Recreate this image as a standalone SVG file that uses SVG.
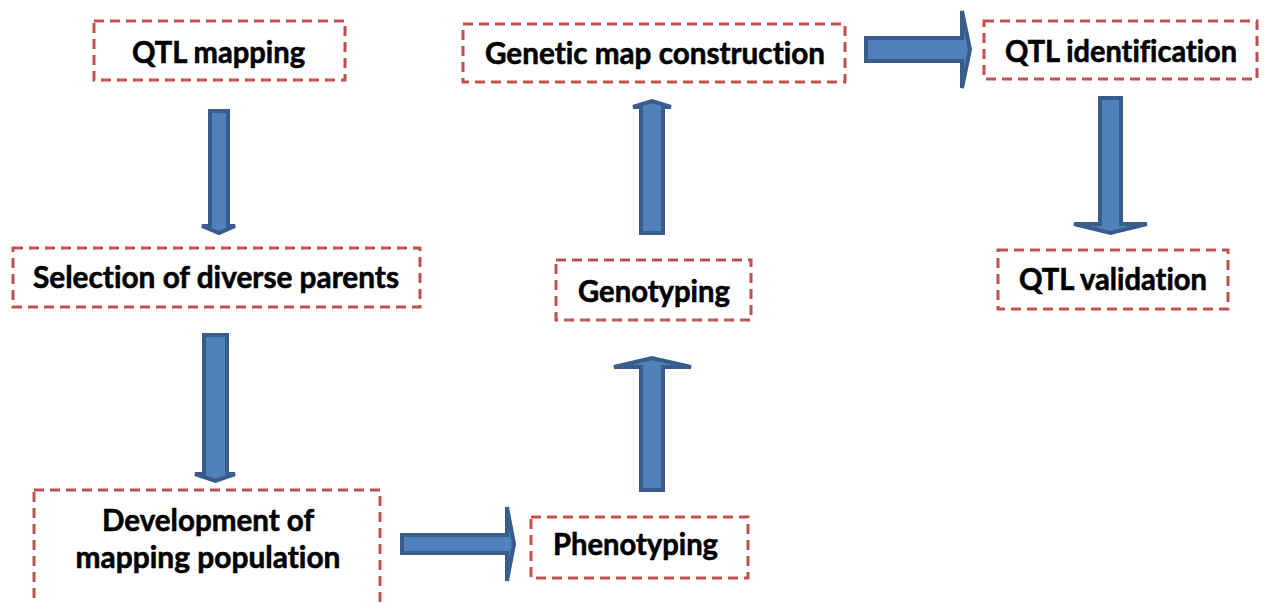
<svg xmlns="http://www.w3.org/2000/svg" width="1264" height="603" viewBox="0 0 1264 603">
<style>
.box{fill:none;stroke:#C0504D;stroke-width:3;stroke-dasharray:10 6}
.lbl{font-family:Lato,"Open Sans","Liberation Sans",sans-serif;font-weight:bold;font-size:30.5px;fill:#000;stroke:#000;stroke-width:0.6;text-anchor:middle;font-variant-ligatures:none}
.arr{fill:#4F81BD;stroke:#385D8A;stroke-width:4;stroke-linejoin:miter}
</style>
<rect width="1264" height="603" fill="#fff"/>
<g id="connectors">
<polygon class="arr" points="210,111 228,111 228,226 235,226 219,233 202,226 210,226"/>
<polygon class="arr" points="204,335 227,335 227,474 235,474 215.5,481 195,474 204,474"/>
<polygon class="arr" points="402,535 507,535 507,507 514,544 507,581 507,553 402,553"/>
<polygon class="arr" points="641,490 663,490 663,367 691,367 652,358 614,367 641,367"/>
<polygon class="arr" points="641,233 663,233 663,107 671,107 652,101 633,107 641,107"/>
<polygon class="arr" points="866,38 962,38 962,11 970,49.5 962,88 962,61 866,61"/>
<polygon class="arr" points="1100,98 1121,98 1121,224 1147,224 1110.5,233 1074,224 1100,224"/>
</g>
<g id="n-qtl-mapping">
<rect class="box" x="94" y="21" width="251" height="59"/>
<text class="lbl" x="218.5" y="63" textLength="173" lengthAdjust="spacingAndGlyphs">QTL mapping</text>
</g>
<g id="n-selection">
<rect class="box" x="13" y="248" width="407" height="59"/>
<text class="lbl" x="216" y="288" textLength="366" lengthAdjust="spacingAndGlyphs">Selection of diverse parents</text>
</g>
<g id="n-development">
<rect class="box" x="34" y="490" width="346" height="140"/>
<text class="lbl" x="208" y="531" textLength="212" lengthAdjust="spacingAndGlyphs">Development of</text>
<text class="lbl" x="208" y="568" textLength="265" lengthAdjust="spacingAndGlyphs">mapping population</text>
</g>
<g id="n-phenotyping">
<rect class="box" x="531" y="517" width="217" height="61"/>
<text class="lbl" x="635.5" y="555" textLength="165" lengthAdjust="spacingAndGlyphs">Phenotyping</text>
</g>
<g id="n-genotyping">
<rect class="box" x="556" y="260" width="195" height="60"/>
<text class="lbl" x="654" y="302" textLength="152" lengthAdjust="spacingAndGlyphs">Genotyping</text>
</g>
<g id="n-genetic-map">
<rect class="box" x="463" y="24" width="382" height="58"/>
<text class="lbl" x="655" y="64" textLength="340" lengthAdjust="spacingAndGlyphs">Genetic map construction</text>
</g>
<g id="n-qtl-identification">
<rect class="box" x="984" y="21" width="273" height="58"/>
<text class="lbl" x="1121" y="62" textLength="232" lengthAdjust="spacingAndGlyphs">QTL identification</text>
</g>
<g id="n-qtl-validation">
<rect class="box" x="998" y="250" width="230" height="59"/>
<text class="lbl" x="1113" y="290" textLength="188" lengthAdjust="spacingAndGlyphs">QTL validation</text>
</g>
</svg>
